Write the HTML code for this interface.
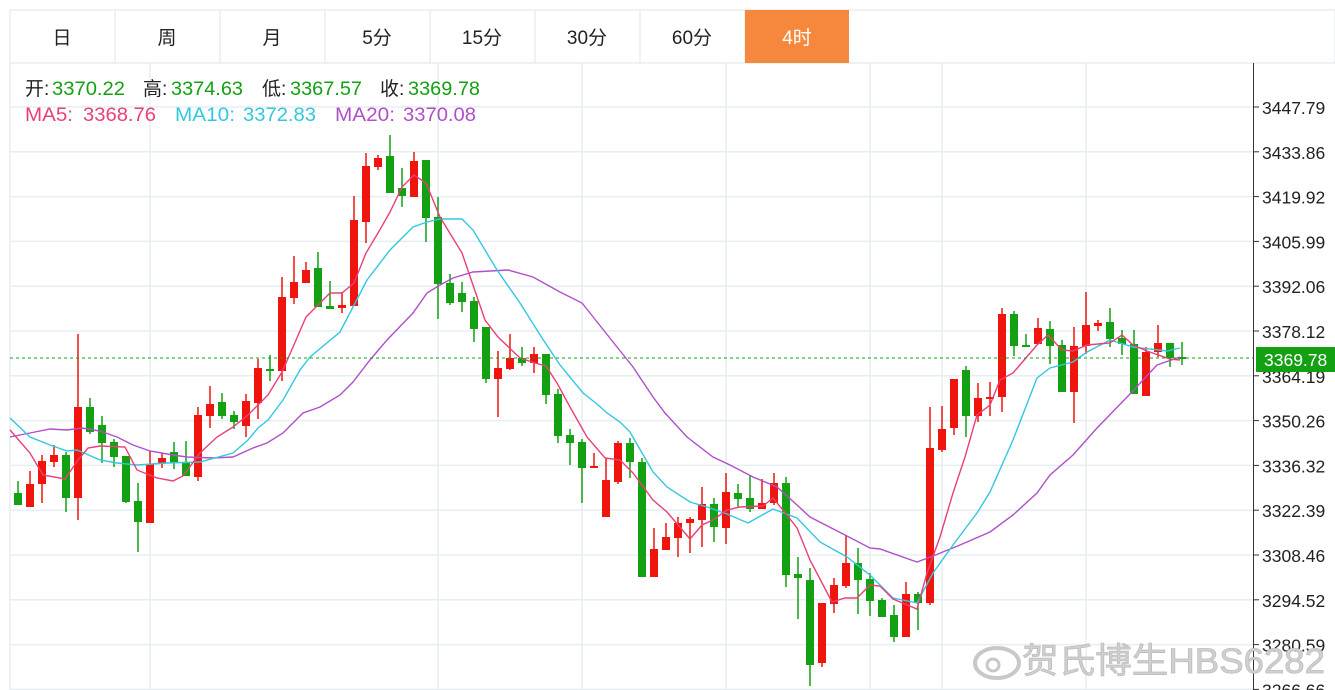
<!DOCTYPE html>
<html><head><meta charset="utf-8"><style>
html,body{margin:0;padding:0;background:#fff;width:1335px;height:690px;overflow:hidden}
svg{display:block}
</style></head><body>
<svg id="s" width="1335" height="690" xmlns="http://www.w3.org/2000/svg" font-family="Liberation Sans, Noto Sans CJK SC, sans-serif"></svg>
<script>
const S=document.getElementById('s');let h='';
const tabs=['日','周','月','5分','15分','30分','60分','4时'];
h+='<rect x="10" y="10" width="1325" height="53" fill="#fff" stroke="#dfe3e8"/>';
tabs.forEach((t,i)=>{const x=10+i*105;
 if(i==7)h+=`<rect x="${x}" y="10" width="104" height="53" fill="#f5883c"/>`;
 else h+=`<line x1="${x+105}" y1="10" x2="${x+105}" y2="63" stroke="#dfe3e8"/>`;
 h+=`<text x="${x+52}" y="44" font-size="19" text-anchor="middle" fill="${i==7?'#fff':'#222'}">${t}</text>`;});
const ticks=['3447.79','3433.86','3419.92','3405.99','3392.06','3378.12','3364.19','3350.26','3336.32','3322.39','3308.46','3294.52','3280.59','3266.66'];
ticks.forEach((t,i)=>{const y=107+i*44.8;
 h+=`<line x1="10" y1="${y}" x2="1253" y2="${y}" stroke="#e6edf3" stroke-width="1.5"/>`;
 h+=`<line x1="1253" y1="${y}" x2="1259" y2="${y}" stroke="#333"/>`;
 h+=`<text x="1262" y="${y+7}" font-size="17.5" fill="#222">${t}</text>`;});
[150,438,582,726,870,942,1086].forEach(x=>h+=`<line x1="${x}" y1="63" x2="${x}" y2="690" stroke="#e6edf3" stroke-width="1.5"/>`);
h+='<line x1="10" y1="63" x2="10" y2="690" stroke="#e6edf3" stroke-width="1.5"/>';
h+='<line x1="1253.5" y1="63" x2="1253.5" y2="690" stroke="#333"/>';
const R='#f0140f',G='#13a013';
const C=[[18,493,505,481,505,G],[30,484,507,471,507,R],[42,461,484,455,503,R],[54,455,462,445,467,R],[66,455,498,452,512,G],[78,407,498,334,520,R],[90,407,432,398,434,G],[102,425,443,416,463,G],[114,442,457,439,467,G],[126,456,502,456,503,G],[138,501,522,483,552,G],[150,464,523,451,523,R],[162,458,463,453,468,R],[174,452,463,442,469,G],[186,462,476,441,476,G],[198,415,477,407,481,R],[210,404,416,386,428,R],[222,402,416,393,419,G],[234,415,422,411,429,G],[246,401,426,394,437,R],[258,368,403,359,419,R],[270,369,371,355,381,G],[282,297,371,277,381,R],[294,282,298,256,304,R],[306,270,283,262,283,R],[318,268,307,252,307,G],[330,306,309,281,309,G],[342,305,308,292,313,R],[354,220,306,196,306,R],[366,166,222,153,243,R],[378,158,167,155,170,R],[390,156,193,135,193,G],[402,188,196,168,207,G],[414,161,197,152,197,R],[426,160,218,160,242,G],[438,217,284,197,319,G],[450,283,303,274,305,G],[462,293,302,282,312,G],[474,301,329,297,342,G],[486,327,379,327,383,G],[498,368,379,351,417,R],[510,358,369,334,370,R],[522,358,363,347,366,G],[534,354,363,347,373,R],[546,354,395,354,404,G],[558,394,436,389,443,G],[570,435,443,429,465,G],[582,442,468,439,503,G],[594,466,468,453,468,R],[606,480,517,458,517,R],[618,443,482,441,484,R],[630,443,462,438,478,G],[642,462,577,458,577,G],[654,549,577,528,577,R],[666,537,550,523,550,R],[678,523,538,517,557,R],[690,519,523,517,553,R],[702,504,520,487,547,R],[714,504,527,498,542,G],[726,492,528,473,544,R],[738,493,499,484,508,G],[750,498,509,475,512,G],[762,503,509,479,509,R],[774,483,503,473,505,R],[786,483,575,477,587,G],[798,574,578,557,619,G],[810,580,665,568,686,G],[822,603,663,603,667,R],[834,585,604,578,613,R],[846,563,586,535,588,R],[858,563,580,548,614,G],[870,579,601,573,616,G],[882,600,617,598,617,G],[894,615,637,605,642,G],[906,594,637,582,637,R],[918,594,603,592,630,G],[930,448,603,407,605,R],[942,429,450,406,452,R],[954,379,428,379,435,R],[966,370,416,366,437,G],[978,398,416,383,422,R],[990,397,399,382,416,R],[1002,314,397,308,412,R],[1014,314,346,311,356,G],[1026,345,347,334,347,G],[1038,328,344,318,344,R],[1050,329,346,321,364,G],[1062,345,392,340,392,G],[1074,346,392,327,423,R],[1086,325,346,292,354,R],[1098,323,326,320,331,R],[1110,322,339,308,347,G],[1122,338,344,330,355,G],[1134,344,394,330,394,G],[1146,352,396,347,396,R],[1158,343,352,325,357,R],[1170,343,358,343,367,G],[1182,357,359,342,365,G]];
const MA5=[[10,430],[30,453],[43,475],[65,479],[78,460],[88,448],[100,446],[125,447],[137,470],[157,478],[173,481],[183,476],[200,453],[217,437],[233,427],[248,415],[258,405],[268,395],[282,372],[293,347],[306,317],[330,293],[342,293],[354,283],[366,253],[378,233],[390,212],[402,187],[414,175],[426,183],[440,217],[462,253],[485,320],[498,337],[520,358],[535,363],[546,366],[557,383],[570,407],[587,437],[605,458],[620,460],[633,473],[653,500],[667,512],[690,539],[702,525],[713,520],[727,510],[740,507],[763,506],[773,498],[783,510],[797,528],[810,560],[832,602],[845,598],[857,598],[870,585],[880,586],[893,599],[917,609],[927,573],[940,537],[953,493],[965,457],[977,415],[990,405],[1000,380],[1013,373],[1037,345],[1048,335],[1062,350],[1073,351],[1087,345],[1110,343],[1122,335],[1133,345],[1147,351],[1170,359],[1180,360]];
const MA10=[[10,418],[30,437],[50,445],[67,451],[77,450],[100,460],[117,463],[137,465],[167,463],[200,462],[233,453],[248,440],[258,428],[268,420],[283,400],[300,370],[310,357],[340,332],[367,280],[390,250],[413,227],[427,222],[440,219],[462,219],[473,230],[497,270],[520,303],[542,338],[560,365],[583,393],[597,404],[607,413],[620,422],[630,432],[653,472],[667,487],[690,502],[707,507],[727,514],[748,523],[773,509],[797,518],[820,542],[847,557],[870,575],[893,598],[917,603],[933,573],[953,545],[977,513],[990,492],[1013,440],[1037,378],[1050,368],[1073,362],[1087,352],[1110,340],[1133,347],[1167,351],[1180,348]];
const MA20=[[10,437],[30,433],[50,429],[67,430],[82,428],[100,431],[117,437],[133,445],[150,451],[173,455],[187,457],[213,458],[233,457],[253,448],[267,443],[283,433],[303,413],[320,407],[340,395],[353,382],[370,360],[387,340],[413,313],[427,293],[440,285],[453,278],[473,272],[508,270],[533,277],[560,292],[582,303],[590,313],[617,347],[633,367],[653,397],[665,413],[687,437],[713,457],[730,465],[753,477],[777,487],[797,505],[810,517],[845,535],[870,548],[880,549],[917,562],[933,556],[960,545],[990,532],[1013,515],[1037,493],[1050,475],[1073,455],[1097,428],[1130,394],[1157,365],[1180,357]];
const pl=(a,c)=>`<polyline points="${a.map(p=>p.join(',')).join(' ')}" fill="none" stroke="${c}" stroke-width="1.4"/>`;
C.forEach(c=>{const[x,t,b,wt,wb,col]=c;
 h+=`<line x1="${x}" y1="${wt}" x2="${x}" y2="${wb}" stroke="${col}" stroke-width="1.5"/>`;
 h+=`<rect x="${x-4}" y="${t}" width="8" height="${Math.max(b-t,2)}" fill="${col}"/>`;});
h+=pl(MA20,'#b04fc9')+pl(MA10,'#33c7e0')+pl(MA5,'#ea3f78');
h+='<line x1="10" y1="358" x2="1253" y2="358" stroke="#13a013" stroke-dasharray="3,3"/>';
h+='<rect x="1256" y="347" width="79" height="25" fill="#13a013"/><text x="1264" y="366" font-size="17.5" fill="#fff">3369.78</text>';
// legend
const L=(x,y,t,c,w)=>h+=`<text x="${x}" y="${y}" font-size="19" fill="${c}"${w?` textLength="${w}" lengthAdjust="spacingAndGlyphs"`:''}>${t}</text>`;
L(25,95,'开:','#222');L(52,95,'3370.22','#13a013',73);
L(143,95,'高:','#222');L(171,95,'3374.63','#13a013',72);
L(262,95,'低:','#222');L(290,95,'3367.57','#13a013',72);
L(380,95,'收:','#222');L(408,95,'3369.78','#13a013',72);
L(25,121,'MA5:','#ea3f78',48);L(83,121,'3368.76','#ea3f78',73);
L(175,121,'MA10:','#33c7e0',60);L(243,121,'3372.83','#33c7e0',73);
L(335,121,'MA20:','#b04fc9',60);L(403,121,'3370.08','#b04fc9',73);
// watermark
h+='<ellipse cx="997" cy="663" rx="22" ry="15" fill="none" stroke="#c8c8c8" stroke-width="4"/><circle cx="993" cy="665" r="6" fill="none" stroke="#c8c8c8" stroke-width="3"/>';
h+='<text x="1022" y="673" font-size="35" fill="#d0d0d0" stroke="#bdbdbd" stroke-width="0.8" textLength="303" lengthAdjust="spacingAndGlyphs">贺氏博生HBS6282</text>';
S.innerHTML=h;
</script>
</body></html>
